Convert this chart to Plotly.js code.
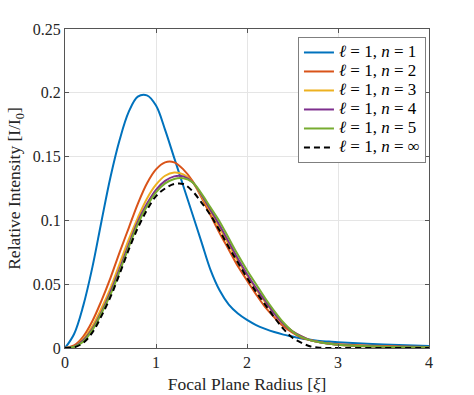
<!DOCTYPE html>
<html>
<head>
<meta charset="utf-8">
<script src="https://cdn.plot.ly/plotly-3.0.1.min.js"></script>
<style>html,body{margin:0;padding:0;background:#fff;}#chart{width:474px;height:395px;}</style>
</head>
<body>
<div id="chart"></div>
<script>
const radius = [0,0.1,0.2,0.3,0.4,0.5,0.6,0.7,0.8,0.9,1.0,1.1,1.2,1.3,1.4,1.5,1.6,1.7,1.8,1.9,2.0,2.1,2.2,2.3,2.4,2.5,2.6,2.7,2.8,2.9,3.0,3.5,4.0];
const n1 = [0,0.011,0.033,0.063,0.099,0.134,0.163,0.185,0.197,0.198,0.19,0.171,0.149,0.127,0.105,0.083,0.061,0.045,0.034,0.027,0.022,0.018,0.015,0.0125,0.0105,0.009,0.0075,0.0065,0.0055,0.005,0.0045,0.0028,0.0015];
const n2 = [0,0.002,0.009,0.021,0.037,0.055,0.075,0.094,0.113,0.129,0.14,0.1455,0.1455,0.14,0.131,0.118,0.104,0.09,0.077,0.064,0.053,0.042,0.032,0.024,0.017,0.012,0.008,0.006,0.0045,0.0035,0.003,0.0015,0.0008];
const n3 = [0,0.001,0.007,0.017,0.031,0.047,0.066,0.085,0.102,0.117,0.128,0.135,0.1375,0.136,0.13,0.119,0.107,0.094,0.081,0.068,0.057,0.046,0.036,0.027,0.019,0.013,0.009,0.006,0.0045,0.0035,0.0025,0.001,0.0005];
const n4 = [0,0.001,0.006,0.015,0.028,0.044,0.062,0.081,0.099,0.113,0.124,0.131,0.1345,0.1345,0.13,0.12,0.108,0.096,0.083,0.07,0.058,0.047,0.037,0.027,0.019,0.013,0.009,0.006,0.0045,0.0035,0.0025,0.001,0.0005];
const n5 = [0,0.001,0.005,0.014,0.027,0.042,0.06,0.079,0.097,0.111,0.122,0.129,0.1325,0.133,0.13,0.121,0.11,0.099,0.086,0.073,0.061,0.05,0.039,0.029,0.02,0.013,0.0085,0.006,0.0045,0.0035,0.0025,0.001,0.0005];
const nInf = [0,0.0005,0.004,0.012,0.025,0.04,0.058,0.077,0.094,0.108,0.119,0.125,0.1285,0.1285,0.123,0.114,0.104,0.092,0.079,0.067,0.055,0.044,0.034,0.024,0.015,0.008,0.004,0.0012,0.0002,0,0,0,0];
const seriesNames = ['<i>ℓ</i> = 1, <i>n</i> = 1','<i>ℓ</i> = 1, <i>n</i> = 2','<i>ℓ</i> = 1, <i>n</i> = 3','<i>ℓ</i> = 1, <i>n</i> = 4','<i>ℓ</i> = 1, <i>n</i> = 5','<i>ℓ</i> = 1, <i>n</i> = ∞'];
const xTicks = [0,1,2,3,4];
const yTicks = [0,0.05,0.1,0.15,0.2,0.25];
const yTickText = ['0','0.05','0.1','0.15','0.2','0.25'];

const colors = ['#0072BD','#D95319','#EDB120','#7E2F8E','#77AC30','#000000'];
const ys = [n1,n2,n3,n4,n5,nInf];
const traces = ys.map((y,i)=>({
  x: radius, y: y, type:'scatter', mode:'lines',
  name: '<span style="font-size:17px">' + seriesNames[i] + '</span>',
  line:{color:colors[i], width:2, shape:'spline', smoothing:1, dash: i===5 ? '6px,4px' : 'solid'}
}));
const font = 'Liberation Serif, Times New Roman, serif';
const layout = {
  width:474, height:395,
  margin:{l:65, r:45, t:29, b:47},
  paper_bgcolor:'#fff', plot_bgcolor:'#fff',
  font:{family:font, size:16, color:'#262626'},
  showlegend:true,
  legend:{x:0.64, y:0.975, xanchor:'left', yanchor:'top', bgcolor:'#fff', bordercolor:'#7f7f7f', borderwidth:1,
          font:{family:font, size:12, color:'#000'}, tracegroupgap:0, itemwidth:30},
  xaxis:{range:[0,4], tickvals:xTicks, ticktext:xTicks.map(String), showgrid:true, gridcolor:'#e5e5e5', gridwidth:1,
         zeroline:false, showline:true, linecolor:'#555', linewidth:1, mirror:'ticks', ticks:'inside', ticklen:4, tickcolor:'#555',
         tickfont:{family:font, size:16, color:'#262626'},
         title:{text:'Focal Plane Radius [<i>ξ</i>]', font:{family:font, size:17.5, color:'#262626'}, standoff:7}},
  yaxis:{range:[0,0.25], tickvals:yTicks, ticktext:yTickText, showgrid:true, gridcolor:'#e5e5e5', gridwidth:1,
         zeroline:false, showline:true, linecolor:'#555', linewidth:1, mirror:'ticks', ticks:'inside', ticklen:4, tickcolor:'#555',
         tickfont:{family:font, size:16, color:'#262626'},
         title:{text:'Relative Intensity [I/I<sub>0</sub>]', font:{family:font, size:17.5, color:'#262626'}, standoff:7}}
};
Plotly.newPlot('chart', traces, layout, {staticPlot:true, displayModeBar:false});
</script>
</body>
</html>
